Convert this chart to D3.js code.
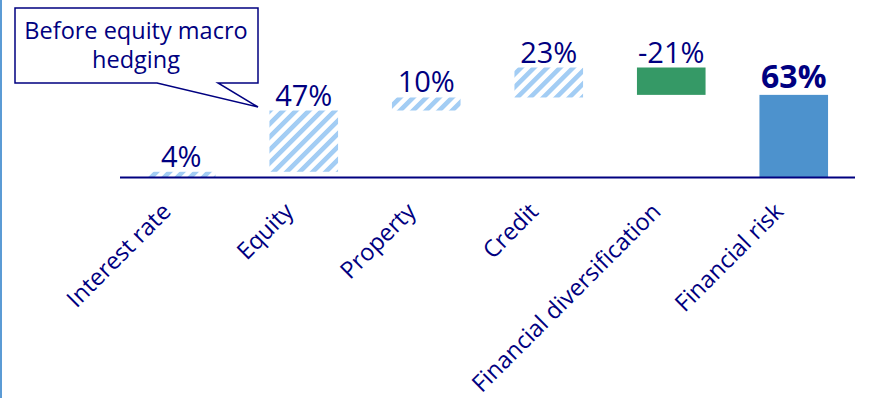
<!DOCTYPE html>
<html>
<head>
<meta charset="utf-8">
<script src="https://cdn.jsdelivr.net/npm/d3@7/dist/d3.min.js"></script>
<style>
  html, body { margin: 0; padding: 0; background: #fff; }
  svg { display: block; }
  text { font-family: "Open Sans", sans-serif; }
</style>
</head>
<body>
<svg id="chart" width="881" height="398"></svg>
<script>
// Contribution of each risk to the financial risk total (in %)
const categories = ["Interest rate", "Equity", "Property", "Credit", "Financial diversification", "Financial risk"];
const values = [4, 47, 10, 23, -21, 63];
const valueLabels = ["4%", "47%", "10%", "23%", "-21%", "63%"];
const kinds = ["step", "step", "step", "step", "diversification", "total"];
const calloutLines = ["Before equity macro", "hedging"];

const navy = "#000080";
const svg = d3.select("#chart");

// Waterfall segments: each step starts where the previous ended, the total starts at zero
let running = 0;
const segments = categories.map((c, i) => {
  let lo, hi;
  if (kinds[i] === "total") { lo = 0; hi = values[i]; }
  else { lo = running; hi = running + values[i]; running = hi; }
  return { cat: c, v: values[i], label: valueLabels[i], kind: kinds[i],
           y0: Math.min(lo, hi), y1: Math.max(lo, hi) };
});

const x = d3.scaleBand().domain(categories).range([120, 855]).paddingInner(0.44).paddingOuter(0.22);
const y = d3.scaleLinear().domain([0, 84]).range([177, 67.5]);

// Hatch for the individual risk contributions
const defs = svg.append("defs");
const pat = defs.append("pattern")
  .attr("id", "hatch").attr("patternUnits", "userSpaceOnUse")
  .attr("width", 9.2).attr("height", 9.2)
  .attr("patternTransform", "rotate(45)");
pat.append("rect").attr("width", 9.2).attr("height", 9.2).attr("fill", "#ffffff");
pat.append("rect").attr("x", 0).attr("width", 4.6).attr("height", 9.2).attr("fill", "#a3cdf4");

// Left frame edge
svg.append("line").attr("x1", 1).attr("x2", 1).attr("y1", 0).attr("y2", 398)
  .attr("stroke", "#5b9bd5").attr("stroke-width", 2);

const fillOf = d => d.kind === "total" ? "#4d92cd" : d.kind === "diversification" ? "#359966" : "url(#hatch)";

svg.append("g").selectAll("rect").data(segments).join("rect")
  .attr("x", d => x(d.cat))
  .attr("width", x.bandwidth())
  .attr("y", d => y(d.y1))
  .attr("height", d => y(d.y0) - y(d.y1))
  .attr("fill", fillOf);

// Baseline
svg.append("line").attr("x1", 120).attr("x2", 855).attr("y1", y(0) + 0.5).attr("y2", y(0) + 0.5)
  .attr("stroke", navy).attr("stroke-width", 2);

// Value labels above each bar
svg.append("g").selectAll("text").data(segments).join("text")
  .attr("x", d => x(d.cat) + x.bandwidth() / 2)
  .attr("y", d => y(d.y1) - (d.kind === "total" ? 7 : 5))
  .attr("text-anchor", "middle")
  .attr("fill", navy)
  .attr("font-size", d => d.kind === "total" ? 32 : 29)
  .attr("font-weight", d => d.kind === "total" ? 700 : 400)
  .text(d => d.label);

// Rotated category axis
const axis = d3.axisBottom(x).tickSize(0).tickPadding(0);
const gx = svg.append("g").attr("transform", `translate(0,${y(0)})`).call(axis);
gx.select(".domain").remove();
gx.selectAll(".tick text")
  .attr("fill", navy)
  .attr("font-size", 23.5)
  .attr("font-family", "Open Sans, sans-serif")
  .attr("text-anchor", "end")
  .attr("dy", 0)
  .attr("y", 0)
  .attr("transform", "translate(-9,36) rotate(-45)");

// Callout
const callout = svg.append("g");
callout.append("path")
  .attr("d", "M15,8 H258 V83 H218 L258,107 L157,83 H15 Z")
  .attr("fill", "#fff").attr("stroke", navy).attr("stroke-width", 1.5);
callout.selectAll("text").data(calloutLines).join("text")
  .attr("x", 136).attr("y", (d, i) => 39 + i * 29)
  .attr("text-anchor", "middle").attr("fill", navy).attr("font-size", 23.5)
  .text(d => d);
</script>
</body>
</html>
